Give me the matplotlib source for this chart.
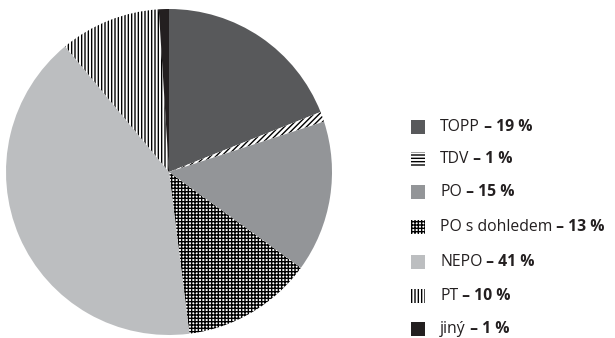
import matplotlib.pyplot as plt
from matplotlib.patches import Rectangle

plt.rcParams['font.family'] = ['Open Sans', 'DejaVu Sans']
plt.rcParams['hatch.linewidth'] = 1.0

# data
names = ['TOPP', 'TDV', 'PO', 'PO s dohledem', 'NEPO', 'PT', 'jiný']
shares = [19, 1, 15, 13, 41, 10, 1]
faces = ['#58595b', 'white', '#939598', 'white', '#bcbec0', 'white', '#231f20']
pie_hatches = [None, '//////', None, '+++++', None, '|||||', None]
legend_hatches = [None, '-----', None, '+++++', None, '|||||', None]

W, H = 615, 338
fig = plt.figure(figsize=(W / 100, H / 100), dpi=100)

# pie axes: centre (169,172) px, radius 163 px
cx, cy, r = 169, 172, 163
ax = fig.add_axes([(cx - r) / W, (H - cy - r) / H, 2 * r / W, 2 * r / H])
wedges, _ = ax.pie(shares, colors=faces, startangle=90, counterclock=False,
                   radius=1, wedgeprops=dict(linewidth=0))
for w, h in zip(wedges, pie_hatches):
    if h:
        w.set_hatch(h)
        w.set_edgecolor('black')
        w.set_linewidth(0)
ax.set_xlim(-1, 1)
ax.set_ylim(-1, 1)
ax.set_aspect('equal')
ax.axis('off')

# legend drawn by hand: normal name + bold share
fig.canvas.draw()
renderer = fig.canvas.get_renderer()
rows_y = [127, 159, 192, 227, 262, 296, 329]
box_x, box_s, text_x = 411, 14, 440
fs = 11.3
for name, val, fc, h, y in zip(names, shares, faces, legend_hatches, rows_y):
    rect = Rectangle((box_x / W, 1 - (y + box_s / 2) / H), box_s / W, box_s / H,
                     transform=fig.transFigure, facecolor=fc,
                     edgecolor='black' if h else fc, linewidth=0, hatch=h)
    fig.add_artist(rect)
    t1 = fig.text(text_x / W, 1 - y / H, name, fontsize=fs, va='center',
                  ha='left', color='#231f20')
    bb = t1.get_window_extent(renderer)
    fig.text(bb.x1 / W, 1 - y / H, ' – %d %%' % val, fontsize=fs,
             fontweight='bold', va='center', ha='left', color='#231f20')

fig.savefig('out.png', dpi=100)
